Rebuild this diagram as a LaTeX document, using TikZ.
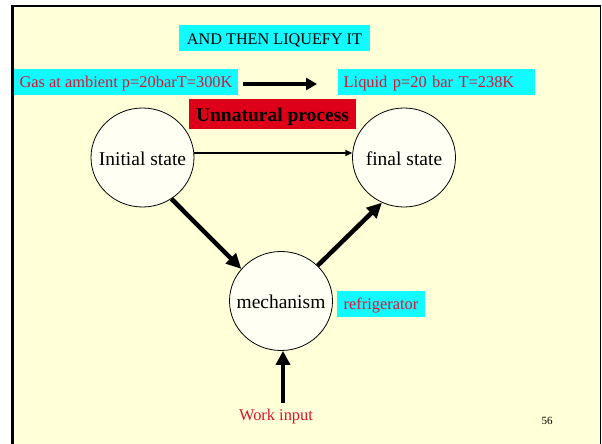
\documentclass[tikz,border=0pt]{standalone}
\usepackage{fontspec}
\setmainfont{Liberation Serif}
\usetikzlibrary{shapes.geometric,arrows.meta}
\definecolor{slidebg}{RGB}{255,255,216}
\definecolor{statefill}{RGB}{255,255,244}
\definecolor{hilite}{RGB}{16,250,255}
\definecolor{labelred}{RGB}{215,20,50}
\definecolor{boxred}{RGB}{222,0,24}
\tikzset{
  fs/.style={font=\fontsize{#1}{#1}\selectfont},
  tagbox/.style={fill=hilite, inner xsep=0pt, inner ysep=0pt, minimum height=26pt},
  statenode/.style={ellipse, draw=black, line width=0.8pt, fill=statefill,
    minimum width=103pt, minimum height=99pt, inner sep=0pt,
    text height=18pt, text depth=2pt, fs=19.5},
  bigarrow/.style={line width=4.5pt, -{Triangle[length=15pt,width=14pt]}},
  thinarrow/.style={line width=1.5pt, -{Triangle[length=7pt,width=6pt]}},
}
\begin{document}
\begin{tikzpicture}[x=1pt,y=-1pt]
\useasboundingbox (0,0) rectangle (602,444);
\clip (0,0) rectangle (602,444);
% slide background and frame
\fill[white] (0,0) rectangle (602,444);
\fill[slidebg] (12.5,6) rectangle (600.5,460);
\draw[line width=1.2pt] (600.5,460) -- (600.5,6);
\draw[line width=2pt] (11.5,6) -- (600.5,6);
\draw[line width=3pt] (12.5,460) -- (12.5,5);

% headline labels
\node[tagbox, minimum width=191pt, text height=19.3pt, text depth=6.7pt, fs=16.2]
  (title) at (274.5,38) {AND THEN LIQUEFY IT};
\node[tagbox, minimum width=224pt, text height=19pt, text depth=7pt, fs=16.4, text=labelred]
  (gas) at (126,82) {Gas at ambient p=20barT=300K};
\node[tagbox, minimum width=197pt, text height=19pt, text depth=7pt, fs=16.4, text=labelred,
  anchor=west, inner xsep=5.5pt, text width=186pt, align=left]
  (liquid) at (338,82) {Liquid p=20 bar T=238K};
\node[fill=boxred, minimum width=167pt, inner sep=0pt, text height=22.5pt, text depth=7.5pt,
  font=\bfseries\fontsize{19.5}{19.5}\selectfont]
  (unnat) at (272.5,114) {Unnatural process};
\draw[line width=3.7pt, -{Triangle[length=11pt,width=12pt]}, shorten <=5pt, shorten >=21pt]
  ([yshift=-2pt]gas.east) -- ([yshift=-2pt]liquid.west);

% states
\node[statenode] (init) at (142.5,157.5) {\makebox[0pt]{Initial state}};
\node[statenode] (final) at (404,157.5) {\makebox[0pt]{final state}};
\node[statenode, text height=17pt, text depth=2pt] (mech) at (281,301) {\makebox[0pt]{mechanism}};

\node[tagbox, minimum width=88pt, text height=18pt, text depth=8pt, fs=16.4, text=labelred]
  (fridge) at (381,304) {refrigerator};

% transitions
\draw[thinarrow] (init.5) -- (final.175);
\draw[bigarrow] (init.-55) -- (mech.141);
\draw[bigarrow] (mech.44) -- (final.244);

% work supplied to the mechanism
\node[fs=16.4, text=labelred, anchor=base] (work) at (276,420) {Work input};
\coordinate (wtail) at (283,403);
\draw[line width=4.7pt, -{Triangle[length=14pt,width=14pt]}] (wtail) -- (wtail |- mech.south);

% page number
\node[fs=11, anchor=base] (pagenum) at (547,424.3) {56};
\end{tikzpicture}
\end{document}
